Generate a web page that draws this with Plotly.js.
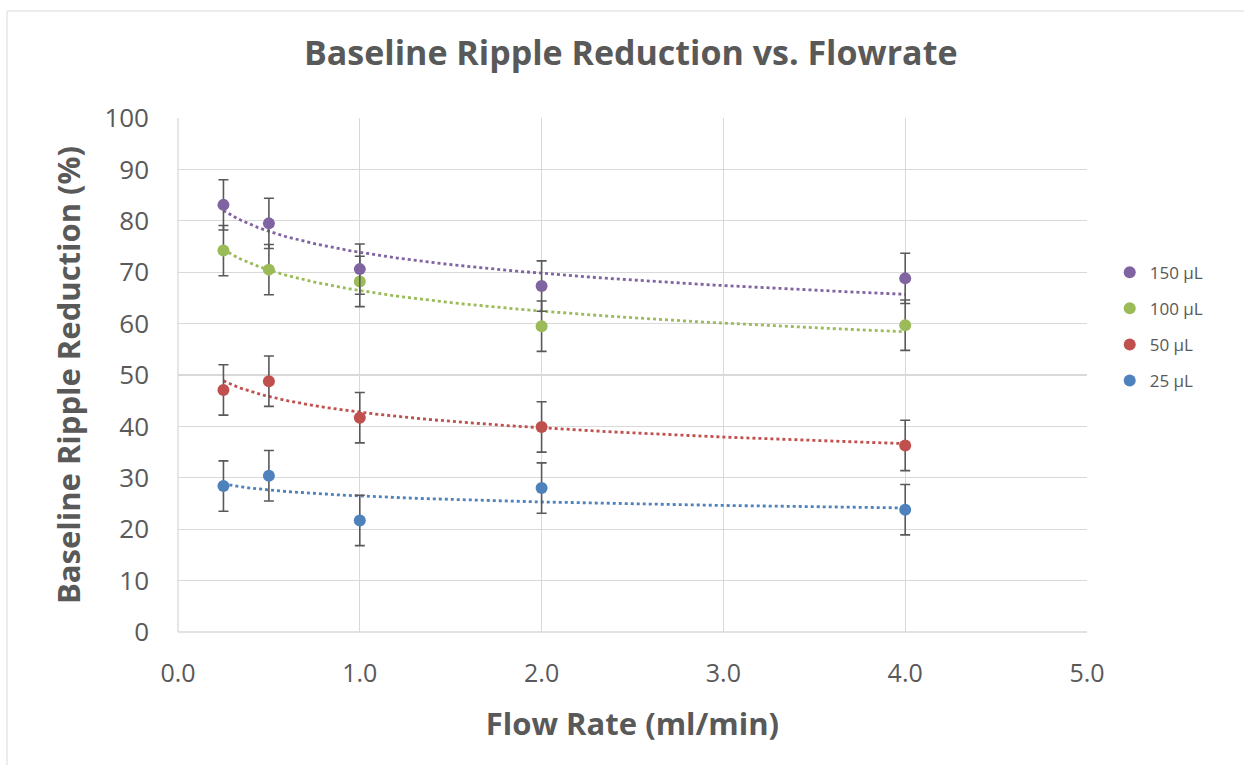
<!DOCTYPE html>
<html>
<head>
<meta charset="utf-8">
<script src="https://cdn.plot.ly/plotly-3.0.1.min.js"></script>
<style>
html,body{margin:0;padding:0;background:#fff;}
#chart{width:1244px;height:765px;}
</style>
</head>
<body>
<div id="chart"></div>
<script>
// Data
const flowRates = [0.25, 0.5, 1.0, 2.0, 4.0];
const seriesNames = ["25 µL", "50 µL", "100 µL", "150 µL"];
const v25  = [28.4, 30.4, 21.7, 28.0, 23.8];
const v50  = [47.1, 48.8, 41.7, 39.9, 36.3];
const v100 = [74.2, 70.5, 68.2, 59.5, 59.7];
const v150 = [83.1, 79.5, 70.6, 67.3, 68.8];
const err25  = [4.9, 4.9, 4.9, 4.9, 4.9];
const err50  = [4.9, 4.9, 4.9, 4.9, 4.9];
const err100 = [4.9, 4.9, 4.9, 4.9, 4.9];
const err150 = [4.9, 4.9, 4.9, 4.9, 4.9];
const colors = ["#4F81BD", "#C0504D", "#9BBB59", "#8064A2"];
const xTicks = [0, 1, 2, 3, 4, 5];
const yTicks = [0, 10, 20, 30, 40, 50, 60, 70, 80, 90, 100];

const values = [v25, v50, v100, v150];
const errs = [err25, err50, err100, err150];

// Logarithmic trendline (least squares, as in the spreadsheet) derived from data
function logFit(xs, ys) {
  const lx = xs.map(Math.log);
  const n = xs.length;
  const mx = lx.reduce((a, b) => a + b, 0) / n;
  const my = ys.reduce((a, b) => a + b, 0) / n;
  let sxy = 0, sxx = 0;
  for (let i = 0; i < n; i++) { sxy += (lx[i] - mx) * (ys[i] - my); sxx += (lx[i] - mx) ** 2; }
  const b = sxy / sxx, a = my - b * mx;
  const tx = [], ty = [];
  const x0 = Math.min(...xs), x1 = Math.max(...xs);
  for (let k = 0; k <= 200; k++) {
    const x = x0 + (x1 - x0) * k / 200;
    tx.push(x); ty.push(a + b * Math.log(x));
  }
  return {tx, ty};
}

const traces = [];
for (let s = 0; s < 4; s++) {
  const f = logFit(flowRates, values[s]);
  traces.push({
    x: f.tx, y: f.ty, mode: "lines", type: "scatter", showlegend: false, hoverinfo: "skip",
    line: {color: colors[s], width: 2.8, dash: "dot"}
  });
}
for (let s = 0; s < 4; s++) {
  traces.push({
    x: flowRates, y: values[s], mode: "markers", type: "scatter", name: seriesNames[s],
    legendgroup: "g" + s, legendrank: 10 - s,
    marker: {color: colors[s], size: 12},
    error_y: {type: "data", array: errs[s], visible: true, color: "#595959", thickness: 1.6, width: 5}
  });
}

const FONT = "'Open Sans', sans-serif";
const layout = {
  width: 1244, height: 765,
  margin: {l: 178, r: 157, t: 118, b: 133},
  paper_bgcolor: "#fff", plot_bgcolor: "#fff",
  font: {family: FONT, color: "#595959"},
  title: {
    text: "<b>Baseline Ripple Reduction vs. Flowrate</b>",
    font: {family: FONT, size: 34, color: "#595959"},
    x: 0.507, xanchor: "center", y: 0.93, yanchor: "middle"
  },
  xaxis: {
    range: [0, 5], tickvals: xTicks, tickformat: ".1f",
    showgrid: true, gridcolor: "#d9d9d9", gridwidth: 1.3,
    zeroline: false, showline: false, ticks: "",
    tickfont: {size: 25, color: "#595959", family: FONT},
    ticklabelstandoff: 24,
    title: {text: "<b>Flow Rate (ml/min)</b>", font: {size: 31, color: "#595959", family: FONT}, standoff: 25}
  },
  yaxis: {
    range: [0, 100], tickvals: yTicks,
    showgrid: true, gridcolor: "#d9d9d9", gridwidth: 1.3,
    zeroline: false, showline: false, ticks: "",
    tickfont: {size: 26, color: "#595959", family: FONT},
    ticklabelstandoff: 28,
    title: {text: "<b>Baseline Ripple Reduction (%)</b>", font: {size: 31, color: "#595959", family: FONT}, standoff: 14}
  },
  shapes: [
    {type: "line", xref: "paper", yref: "paper", x0: 0, x1: 1, y0: 0, y1: 0, line: {color: "#d9d9d9", width: 1.3}},
    {type: "line", xref: "paper", yref: "paper", x0: 0, x1: 0, y0: 0, y1: 1, line: {color: "#d9d9d9", width: 1.3}},
    {type: "rect", xref: "paper", yref: "paper",
     x0: (7 - 178) / 909, x1: (1250 - 178) / 909, y0: (632 - 770) / 514, y1: (632 - 11) / 514,
     line: {color: "#d9d9d9", width: 1}, fillcolor: "rgba(0,0,0,0)", layer: "below"}
  ],
  legend: {
    x: 1.025, xanchor: "left", y: 0.594, yanchor: "middle",
    traceorder: "grouped",
    font: {size: 17, color: "#595959", family: FONT},
    itemwidth: 30, tracegroupgap: 11, bgcolor: "rgba(0,0,0,0)"
  },
  showlegend: true
};

Plotly.newPlot("chart", traces, layout, {displayModeBar: false, staticPlot: true});
</script>
</body>
</html>
